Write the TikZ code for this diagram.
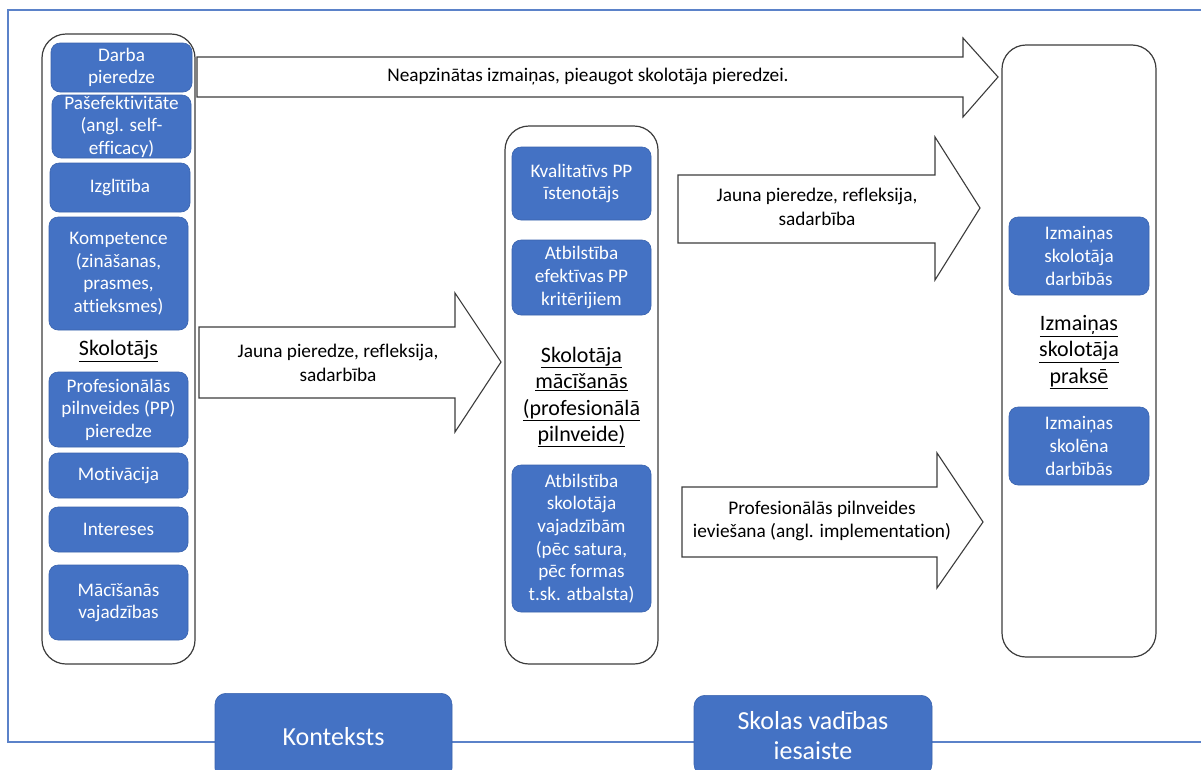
\documentclass[tikz,border=0pt]{standalone}
\usepackage{fontspec}
\setmainfont[Ligatures={NoCommon}]{Carlito}
\definecolor{boxblue}{HTML}{4472C4}
\definecolor{boxedge}{HTML}{3A63AD}
\definecolor{framecol}{HTML}{5B82C9}
\definecolor{linegray}{HTML}{3C3C3C}
\begin{document}
\begin{tikzpicture}[x=1pt,y=-1pt,
  bluebox/.style={draw=boxedge, line width=0.6pt, fill=boxblue, rounded corners=9pt,
    text=white, align=center, inner sep=0pt,
    font=\fontsize{19.2}{22.6}\selectfont},
  bottombox/.style={bluebox, rounded corners=11pt, font=\fontsize{26}{30}\selectfont},
  container/.style={draw=linegray, line width=1.2pt, fill=white, rounded corners=24pt},
  blockarrow/.style={draw=linegray, line width=1.1pt, fill=white, line join=miter},
  arrowtext/.style={align=center, text=black, inner sep=0pt,
    font=\fontsize{19.3}{23.5}\selectfont},
  heading/.style={align=center, text=black, inner sep=0pt,
    font=\fontsize{22}{26.5}\selectfont}]
\useasboundingbox (0,0) rectangle (1201,769);
\clip (0,0) rectangle (1201,769);
\fill[white] (0,0) rectangle (1201,769);

% outer frame
\draw[framecol, line width=1.3pt] (8,10) rectangle (1230,742);

% containers
\draw[container] (42,34) rectangle (195,664);
\draw[container] (505,126) rectangle (658,664);
\draw[container] (1002,45) rectangle (1156,657);

% left column: teacher
\node[bluebox, minimum width=141, minimum height=49] (darba) at (121.5,67.5) {Darba\\pieredze};
\node[bluebox, minimum width=139, minimum height=63] (pasef) at (121.5,126.5) {Pašefektivitāte\\(angl. self-\\efficacy)};
\node[bluebox, minimum width=140, minimum height=49] (izgl) at (120,187.5) {Izglītība};
\node[bluebox, minimum width=139, minimum height=113] (komp) at (118.5,273.5) {Kompetence\\(zināšanas,\\prasmes,\\attieksmes)};
\node[heading] (skolotajs) at (118.5,351) {\underline{Skolotājs}};
\node[bluebox, minimum width=139, minimum height=75] (ppexp) at (118.5,409.5) {Profesionālās\\pilnveides (PP)\\pieredze};
\node[bluebox, minimum width=139, minimum height=45] (motiv) at (118.5,475.5) {Motivācija};
\node[bluebox, minimum width=139, minimum height=45] (inter) at (118.5,529.5) {Intereses};
\node[bluebox, minimum width=139, minimum height=75] (macis) at (118.5,602.5) {Mācīšanās\\vajadzības};

% middle column: teacher learning
\node[bluebox, minimum width=139, minimum height=73] (kval) at (581.5,183.5) {Kvalitatīvs PP\\īstenotājs};
\node[bluebox, minimum width=139, minimum height=75] (efekt) at (581.5,277.5) {Atbilstība\\efektīvas PP\\kritērijiem};
\node[heading] (macisanas) at (581.5,397) {\underline{Skolotāja}\\\underline{mācīšanās}\\\underline{(profesionālā}\\\underline{pilnveide)}};
\node[bluebox, minimum width=139, minimum height=147] (vajadz) at (581.5,538.5) {Atbilstība\\skolotāja\\vajadzībām\\(pēc satura,\\pēc formas\\t.sk. atbalsta)};

% right column: practice
\node[bluebox, minimum width=140, minimum height=78] (darbibas) at (1079,256) {Izmaiņas\\skolotāja\\darbībās};
\node[heading] (prakse) at (1079,352) {\underline{Izmaiņas}\\\underline{skolotāja}\\\underline{praksē}};
\node[bluebox, minimum width=140, minimum height=78] (skolena) at (1079,446) {Izmaiņas\\skolēna\\darbībās};

% block arrows
\draw[blockarrow] (197,57) -- (963,57) -- (963,38) -- (998,77) -- (963,117) -- (963,97) -- (197,97) -- cycle;
\draw[blockarrow] (199,327) -- (455,327) -- (455,293) -- (501,362) -- (455,432) -- (455,398) -- (199,398) -- cycle;
\draw[blockarrow] (678,175) -- (935,175) -- (935,137) -- (980,208) -- (935,280) -- (935,243) -- (678,243) -- cycle;
\draw[blockarrow] (682,487) -- (937,487) -- (937,453) -- (983,522) -- (937,588) -- (937,557) -- (682,557) -- cycle;

\node[arrowtext] (t1) at (588,77) {Neapzinātas izmaiņas, pieaugot skolotāja pieredzei.};
\node[arrowtext] (t2) at (338,363) {Jauna pieredze, refleksija,\\sadarbība};
\node[arrowtext] (t3) at (817,207) {Jauna pieredze, refleksija,\\sadarbība};
\node[arrowtext] (t4) at (822,521) {Profesionālās pilnveides\\ieviešana (angl. implementation)};

% bottom boxes
\node[bottombox, minimum width=237, minimum height=86, anchor=north] (konteksts) at (333.5,693) {Konteksts};
\node[bottombox, minimum width=238, minimum height=80, anchor=north] (vadiba) at (813,695) {Skolas vadības\\iesaiste};
\end{tikzpicture}
\end{document}
